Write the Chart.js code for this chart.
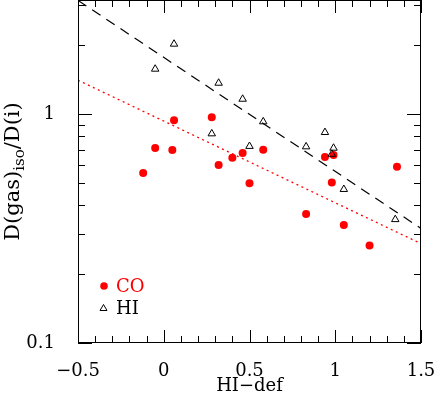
<!DOCTYPE html>
<html>
<head>
<meta charset="utf-8">
<script src="https://cdn.jsdelivr.net/npm/chart.js@4.4.1/dist/chart.umd.min.js"></script>
<style>
  html, body { margin: 0; padding: 0; background: #fff; }
  #chart { display: block; }
</style>
</head>
<body>
<canvas id="chart" width="436" height="394"></canvas>
<script>
// CO detections (filled red circles)
const coDef = [-0.12, -0.05, 0.05, 0.06, 0.28, 0.32, 0.40, 0.46, 0.50, 0.58, 0.83, 0.94, 0.99, 0.98, 1.05, 1.20, 1.36];
const coRatio = [0.554, 0.713, 0.698, 0.941, 0.970, 0.600, 0.646, 0.677, 0.499, 0.700, 0.367, 0.651, 0.664, 0.504, 0.328, 0.267, 0.590];

// HI (open triangles)
const hiDef = [-0.05, 0.06, 0.32, 0.46, 0.28, 0.50, 0.58, 0.83, 0.94, 0.99, 0.98, 1.05, 1.35];
const hiRatio = [1.578, 2.03, 1.37, 1.166, 0.823, 0.725, 0.929, 0.722, 0.834, 0.712, 0.670, 0.470, 0.347];

// fitted relations, end points
const hiFit = [{ x: -0.5, y: 3.15 }, { x: 1.5, y: 0.317 }];
const coFit = [{ x: -0.5, y: 1.41 }, { x: 1.5, y: 0.272 }];

// axis ticks
const xMajor = [-0.5, 0, 0.5, 1, 1.5];
const xMinor = [-0.4, -0.3, -0.2, -0.1, 0.1, 0.2, 0.3, 0.4, 0.6, 0.7, 0.8, 0.9, 1.1, 1.2, 1.3, 1.4];
const yMajor = [0.1, 1];
const yMinor = [0.2, 0.3, 0.4, 0.5, 0.6, 0.7, 0.8, 0.9, 2, 3];
const yLabels = [0.1, 1];

const FONT = '"DejaVu Serif", "Liberation Serif", serif';

function pts(xs, ys) {
  return xs.map((x, i) => ({ x: x, y: ys[i] }));
}

function fmt(v) {
  return v < 0 ? '\u2212' + Math.abs(v) : String(v);
}

// no extra room for the end labels, the frame sits where the reference has it
function fixSize(prop, size) {
  return s => {
    s[prop] = size;
    s.paddingTop = 0; s.paddingBottom = 0;
    s.paddingLeft = 0; s.paddingRight = 0;
  };
}

// frame, inward ticks on all four sides, axis titles and the legend
const framePlugin = {
  id: 'frame',
  afterDraw(chart) {
    const ctx = chart.ctx;
    const a = chart.chartArea;
    const xs = chart.scales.x, ys = chart.scales.y;
    ctx.save();
    ctx.strokeStyle = '#000';
    ctx.lineWidth = 1;
    ctx.strokeRect(a.left + 0.5, a.top + 0.5, a.right - a.left - 1, a.bottom - a.top - 1);

    ctx.beginPath();
    const xt = (list, len) => list.forEach(v => {
      const px = Math.round(xs.getPixelForValue(v)) + 0.5;
      ctx.moveTo(px, a.bottom); ctx.lineTo(px, a.bottom - len);
      ctx.moveTo(px, a.top); ctx.lineTo(px, a.top + len);
    });
    const yt = (list, len) => list.forEach(v => {
      const py = Math.round(ys.getPixelForValue(v)) + 0.5;
      ctx.moveTo(a.left, py); ctx.lineTo(a.left + len, py);
      ctx.moveTo(a.right, py); ctx.lineTo(a.right - len, py);
    });
    xt(xMajor, 13); xt(xMinor, 7);
    yt(yMajor, 14); yt(yMinor, 7);
    ctx.stroke();

    // x title
    ctx.fillStyle = '#000';
    ctx.font = '18px ' + FONT;
    ctx.textAlign = 'center';
    ctx.textBaseline = 'alphabetic';
    ctx.fillText('HI\u2212def', (a.left + a.right) / 2, 391);

    // y title with subscript
    ctx.save();
    ctx.translate(19, (a.top + a.bottom) / 2);
    ctx.rotate(-Math.PI / 2);
    const big = '21px ' + FONT, small = '15px ' + FONT;
    ctx.font = big; const w1 = ctx.measureText('D(gas)').width;
    const w3 = ctx.measureText('/D(i)').width;
    ctx.font = small; const w2 = ctx.measureText('iso').width;
    let x0 = -(w1 + w2 + w3) / 2;
    ctx.textAlign = 'left';
    ctx.font = big; ctx.fillText('D(gas)', x0, 0);
    ctx.font = small; ctx.fillText('iso', x0 + w1, 5);
    ctx.font = big; ctx.fillText('/D(i)', x0 + w1 + w2, 0);
    ctx.restore();

    // legend
    ctx.fillStyle = '#ff0000';
    ctx.beginPath();
    ctx.arc(104, 286, 3.8, 0, Math.PI * 2);
    ctx.fill();
    ctx.font = '18px ' + FONT;
    ctx.textAlign = 'left';
    ctx.textBaseline = 'middle';
    ctx.fillText('CO', 116, 287);
    ctx.strokeStyle = '#000';
    ctx.beginPath();
    ctx.moveTo(103.5, 304.5); ctx.lineTo(107, 310.5); ctx.lineTo(100, 310.5); ctx.closePath();
    ctx.stroke();
    ctx.fillStyle = '#000';
    ctx.fillText('HI', 116, 309);
    ctx.restore();
  }
};

new Chart(document.getElementById('chart'), {
  type: 'scatter',
  data: {
    datasets: [
      {
        label: 'HI',
        data: pts(hiDef, hiRatio),
        pointStyle: 'triangle',
        pointRadius: 4.3,
        borderColor: '#000',
        backgroundColor: 'rgba(0,0,0,0)',
        borderWidth: 1,
        order: 0
      },
      {
        label: 'CO',
        data: pts(coDef, coRatio),
        pointStyle: 'circle',
        pointRadius: 4,
        borderWidth: 0,
        backgroundColor: '#ff0000',
        order: 1
      },
      {
        label: 'HI fit',
        type: 'line',
        data: hiFit,
        borderColor: '#000',
        borderWidth: 1.2,
        borderDash: [10, 7],
        pointRadius: 0,
        fill: false,
        order: 2
      },
      {
        label: 'CO fit',
        type: 'line',
        data: coFit,
        borderColor: '#ff0000',
        borderWidth: 1.3,
        borderDash: [2, 3.5],
        pointRadius: 0,
        fill: false,
        order: 3
      }
    ]
  },
  options: {
    responsive: false,
    animation: false,
    layout: { autoPadding: false, padding: { top: 0, right: 15, left: 0, bottom: 0 } },
    plugins: {
      legend: { display: false },
      tooltip: { enabled: false }
    },
    scales: {
      x: {
        type: 'linear',
        min: -0.5,
        max: 1.5,
        grid: { display: false },
        border: { display: false },
        ticks: {
          stepSize: 0.5,
          autoSkip: false,
          maxRotation: 0,
          padding: 10,
          color: '#000',
          font: { family: FONT, size: 18 },
          callback: v => fmt(v)
        },
        afterFit: fixSize('height', 51)
      },
      y: {
        type: 'logarithmic',
        min: 0.1,
        max: 3.1623,
        grid: { display: false },
        border: { display: false },
        ticks: {
          autoSkip: false,
          padding: 15,
          color: '#000',
          font: { family: FONT, size: 18 },
          callback: v => yLabels.some(t => Math.abs(t - v) < 1e-9) ? String(v) : ''
        },
        afterFit: fixSize('width', 78)
      }
    }
  },
  plugins: [framePlugin]
});
</script>
</body>
</html>
